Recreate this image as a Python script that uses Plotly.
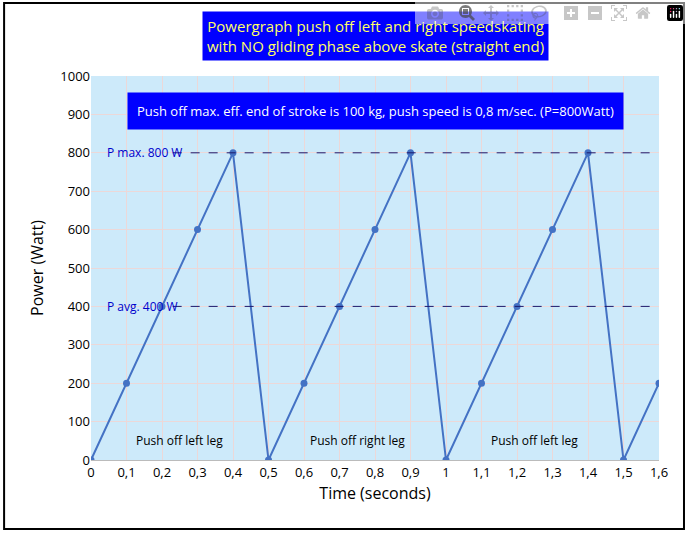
import plotly.graph_objects as go

time = [0, 0.1, 0.2, 0.3, 0.4, 0.5, 0.6, 0.7, 0.8, 0.9, 1.0, 1.1, 1.2, 1.3, 1.4, 1.5, 1.6]
power = [0, 200, 400, 600, 800, 0, 200, 400, 600, 800, 0, 200, 400, 600, 800, 0, 200]
tick_vals = [round(i * 0.1, 1) for i in range(17)]
tick_text = [str(v).replace(".", ",") if v != int(v) else str(int(v)) for v in tick_vals]
p_max, p_avg = 800, 400
legs = [(0.25, "Push off left leg"), (0.75, "Push off right leg"), (1.25, "Push off left leg")]

F = "Open Sans"
fig = go.Figure()
fig.add_trace(go.Scatter(x=time, y=power, mode="lines+markers",
                         line=dict(color="#4472C4", width=2),
                         marker=dict(color="#4472C4", size=7)))
shapes = []
for lvl in (p_max, p_avg):
    shapes.append(dict(type="line", xref="x", yref="y", x0=0.23, x1=1.58, y0=lvl, y1=lvl,
                       line=dict(color="#1a1a6e", width=1, dash="dash")))
shapes.append(dict(type="rect", xref="paper", yref="paper", x0=-0.153, x1=1.044, y0=-0.18, y1=1.19,
                   line=dict(color="black", width=2)))
ann = [
    dict(x=0.04, y=p_max, text="P max. 800 W", xanchor="left", font=dict(color="#0000cc", size=12)),
    dict(x=0.04, y=p_avg, text="P avg. 400 W", xanchor="left", font=dict(color="#0000cc", size=12)),
]
for xp, t in legs:
    ann.append(dict(x=xp, y=50, text=t, font=dict(color="black", size=12)))
ann.append(dict(x=0.8, y=910, text="Push off max. eff. end of stroke is 100 kg, push speed is 0,8 m/sec. (P=800Watt)",
                font=dict(color="white", size=13), bgcolor="#0000ff", borderpad=9))
ann.append(dict(xref="paper", yref="paper", x=0.5, y=1.105, yanchor="middle",
                text="Powergraph push off left and right speedskating<br>with NO gliding phase above skate (straight end)",
                font=dict(color="#ffff66", size=15), bgcolor="#0000ff", borderpad=4))
for a in ann:
    a.setdefault("showarrow", False)
    a.setdefault("bgcolor", "rgba(0,0,0,0)")
    if "xref" not in a:
        a["xref"] = "x"; a["yref"] = "y"
    a["font"]["family"] = F
fig.update_layout(
    annotations=ann, shapes=shapes,
    width=689, height=534, showlegend=False,
    margin=dict(l=91, r=30, t=76, b=74),
    paper_bgcolor="white", plot_bgcolor="#cdeafa",
    font=dict(family=F, size=13, color="black"),
    xaxis=dict(range=[0, 1.6], tickvals=tick_vals, ticktext=tick_text, showgrid=True, gridcolor="#ecd8d8",
               zeroline=False, title=dict(text="Time (seconds)", standoff=8), linecolor="#bbbbbb"),
    yaxis=dict(range=[0, 1000], dtick=100, showgrid=True, gridcolor="#ecd8d8", zeroline=False,
               title=dict(text="Power (Watt)", standoff=12)),
)
fig.write_html("out.html")
with open("out.html", encoding="utf-8") as f:
    html = f.read()
html = html.replace("<head>", "<head><style>body{margin:0;}</style>", 1)
with open("out.html", "w", encoding="utf-8") as f:
    f.write(html)
